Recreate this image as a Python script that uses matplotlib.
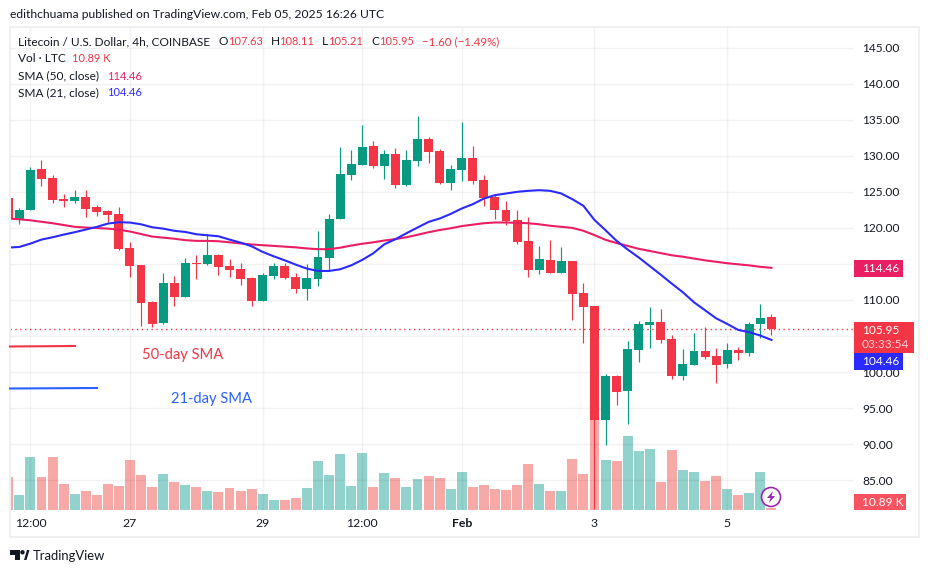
import matplotlib
matplotlib.use("Agg")
import matplotlib.pyplot as plt
from matplotlib.patches import Circle, Polygon, Rectangle

plt.rcParams["font.family"] = ["Lato", "DejaVu Sans"]

W, H = 929, 573

# candles, one entry per 4h bar
opens = [124.1, 121.2, 122.45, 128.15, 126.9, 123.98, 123.7, 124.26, 122.87, 122.31,
         121.9, 117.18, 114.81, 109.68, 106.76, 112.31, 110.37, 115.09, 114.95, 116.2,
         114.68, 114.26, 113.0, 109.81, 113.29, 114.68, 113.15, 111.48, 112.87, 115.79,
         121.2, 127.31, 128.7, 131.34, 128.56, 130.23, 125.93, 129.26, 132.31, 130.65,
         126.2, 128.01, 129.68, 126.62, 124.26, 122.45, 121.06, 118.15, 114.12, 115.51,
         113.7, 115.37, 110.93, 109.12, 93.32, 99.4, 97.33, 103.13, 106.59, 107.0,
         104.65, 99.4, 100.92, 102.86, 102.3, 101.06, 103.0, 102.58, 106.73, 107.63]
closes = [121.3, 122.45, 128.01, 126.76, 123.84, 123.7, 124.26, 122.59, 122.18, 121.76,
          117.04, 114.68, 109.54, 106.62, 112.31, 110.37, 115.09, 114.95, 116.2, 114.54,
          114.12, 112.87, 109.81, 113.43, 114.68, 113.0, 111.48, 113.0, 115.93, 121.2,
          127.45, 128.84, 131.2, 128.56, 130.23, 125.93, 129.4, 132.31, 130.51, 126.2,
          128.15, 129.68, 126.48, 124.12, 122.45, 120.93, 118.01, 114.12, 115.65, 113.7,
          115.37, 110.79, 108.98, 93.32, 99.4, 97.19, 103.27, 106.73, 107.0, 104.52,
          99.4, 101.06, 102.86, 102.16, 100.92, 103.0, 102.58, 106.73, 107.56, 105.95]
highs = [124.1, 122.73, 128.43, 129.4, 127.31, 124.68, 125.23, 125.23, 123.15, 122.45,
         122.87, 118.01, 114.81, 109.81, 113.7, 113.29, 115.79, 116.2, 119.12, 116.34,
         115.65, 115.09, 113.15, 113.7, 115.09, 115.09, 113.7, 114.95, 119.54, 121.9,
         131.2, 130.79, 134.26, 132.04, 130.79, 131.06, 130.79, 135.51, 132.59, 130.93,
         128.7, 134.68, 131.34, 127.31, 124.68, 123.7, 122.45, 121.48, 117.45, 118.29,
         117.31, 115.37, 112.31, 109.12, 99.68, 99.54, 104.38, 107.14, 109.08, 108.8,
         105.21, 103.27, 105.48, 106.31, 103.41, 104.1, 103.55, 107.0, 109.49, 108.11]
lows = [121.3, 120.51, 122.45, 125.79, 123.43, 122.87, 123.43, 121.48, 121.62, 120.79,
        116.9, 113.15, 106.34, 106.2, 106.62, 109.12, 110.37, 112.87, 114.81, 113.43,
        113.15, 112.04, 109.12, 109.81, 112.87, 112.87, 110.93, 109.95, 111.9, 113.98,
        121.2, 126.62, 128.7, 128.29, 126.76, 125.51, 125.79, 128.56, 128.98, 126.06,
        125.23, 126.48, 126.06, 123.01, 121.2, 120.37, 117.73, 113.15, 113.57, 113.7,
        113.7, 107.18, 104.1, 81.0, 89.86, 95.39, 92.76, 101.34, 103.41, 104.1,
        98.99, 98.85, 100.92, 101.75, 98.43, 100.5, 101.61, 102.3, 104.79, 105.21]

# volume in thousands of LTC
volumes = [180, 82, 289, 180, 289, 142, 87, 103, 82, 142,
           131, 272, 191, 125, 196, 152, 136, 125, 103, 98,
           120, 103, 114, 87, 54, 54, 65, 120, 267, 191,
           305, 131, 310, 125, 201, 174, 125, 169, 185, 174,
           114, 207, 125, 136, 114, 109, 136, 250, 142, 103,
           103, 278, 196, 659, 272, 267, 403, 321, 332, 152,
           327, 218, 207, 158, 185, 114, 82, 93, 207, 10.89]

sma50 = [121.3, 121.2, 121.05, 120.85, 120.65, 120.4, 120.15, 120.05, 119.98, 119.9,
         119.75, 119.5, 119.15, 118.8, 118.65, 118.5, 118.3, 118.2, 118.2, 118.15,
         118.0, 117.85, 117.7, 117.6, 117.5, 117.4, 117.3, 117.15, 117.05, 117.05,
         117.25, 117.55, 117.8, 118.0, 118.25, 118.45, 118.7, 119.05, 119.4, 119.7,
         119.95, 120.25, 120.45, 120.65, 120.75, 120.75, 120.7, 120.65, 120.5, 120.3,
         120.15, 120.0, 119.6, 119.0, 118.35, 117.9, 117.5, 117.1, 116.8, 116.5,
         116.2, 116.0, 115.75, 115.5, 115.3, 115.1, 114.95, 114.8, 114.6, 114.46]
sma21 = [117.27, 117.36, 117.82, 118.38, 118.7, 119.07, 119.4, 119.77, 120.14, 120.6,
         120.79, 120.74, 120.5, 120.09, 119.9, 119.6, 119.44, 119.12, 118.98, 118.84,
         118.38, 117.96, 117.45, 116.67, 116.06, 115.5, 114.9, 114.35, 114.03, 114.03,
         114.26, 114.8, 115.56, 116.48, 117.73, 118.43, 119.26, 120.05, 120.83, 121.3,
         121.94, 122.69, 123.29, 124.07, 124.54, 124.77, 125.0, 125.14, 125.23, 125.14,
         124.77, 123.98, 123.06, 121.1, 119.68, 118.2, 117.0, 115.9, 114.7, 113.5,
         112.26, 111.06, 109.68, 108.57, 107.46, 106.68, 105.85, 105.53, 105.07, 104.46]

price_ticks = [85, 90, 95, 100, 105, 110, 115, 120, 125, 130, 135, 140, 145]
# 105 and 115 sit behind the badges, their labels never show
price_labels = ["85.00", "90.00", "95.00", "100.00", "", "110.00", "", "120.00",
                "125.00", "130.00", "135.00", "140.00", "145.00"]
time_ticks = [2, 11, 23, 32, 41, 53, 65]
time_labels = ["12:00", "27", "29", "12:00", "Feb", "3", "5"]
last_close = 105.95

RED = "#f23645"
GREEN = "#089981"
VOL_RED = "#f7a9a7"
VOL_GREEN = "#92d2cc"
PINK = "#e91e63"
BLUE = "#2a2aff"
DARK = "#131722"

fig = plt.figure(figsize=(W / 100, H / 100), dpi=100, facecolor="white")
rect = [10 / W, 1 - 510 / H, 843 / W, 483 / H]

# volume sits under the candles in the same pane
ax_vol = fig.add_axes(rect, zorder=1)
ax = fig.add_axes(rect, zorder=2)
ax.patch.set_visible(False)

x = list(range(len(closes)))
is_up = [c >= o for o, c in zip(opens, closes)]

ax_vol.bar(x, volumes, width=0.9, color=[VOL_GREEN if u else VOL_RED for u in is_up], linewidth=0)
ax_vol.set_ylim(0, 2630)
ax_vol.axis("off")

colors = [GREEN if u else RED for u in is_up]
ax.vlines(x, lows, highs, colors=colors, linewidth=0.85, zorder=3)
ax.bar(x, [abs(c - o) for o, c in zip(opens, closes)], bottom=[min(o, c) for o, c in zip(opens, closes)],
       width=0.81, color=colors, linewidth=0, zorder=4)
ax.plot(x, sma50, color=PINK, linewidth=1.5, zorder=5)
ax.plot(x, sma21, color=BLUE, linewidth=1.5, zorder=5)
ax.axhline(last_close, color=RED, linewidth=1, linestyle=(0, (1, 2.5)), zorder=2)

for a in (ax, ax_vol):
    a.set_xlim((10 - 8.3) / 11.06, (853 - 8.3) / 11.06)
ax.set_ylim(110 - 210 / 7.21, 110 + 273 / 7.21)

ax.yaxis.tick_right()
ax.set_yticks(price_ticks)
ax.set_yticklabels(price_labels, fontsize=8.6, color=DARK)
ax.set_xticks(time_ticks)
ax.set_xticklabels(time_labels, fontsize=8.8, color=DARK)
ax.get_xticklabels()[4].set_fontweight("bold")
ax.tick_params(axis="y", length=0, pad=6.5)
ax.tick_params(axis="x", length=0, pad=6)
ax.grid(True, color="black", alpha=0.05, linewidth=1)
ax.set_axisbelow(True)
for s in ax.spines.values():
    s.set_visible(False)

# overlay in picture pixels for the frame, legend, badges and logo
ov = fig.add_axes([0, 0, 1, 1], zorder=3)
ov.set_xlim(0, W)
ov.set_ylim(H, 0)
ov.axis("off")
ov.patch.set_visible(False)

ov.add_patch(Rectangle((10, 27), 909, 510, fill=False, edgecolor="#f0f0f2", linewidth=1.5))


def label(px, py, s, color=DARK, size=8.6, **kw):
    ov.text(px, py, s, color=color, fontsize=size, va="center", ha="left", **kw)


label(10, 15, "edithchuama published on TradingView.com, Feb 05, 2025 16:26 UTC", size=8.7)
label(18, 41.5, "Litecoin / U.S. Dollar, 4h, COINBASE")
for px, s, c, sz in [(219, "O", DARK, 8.6), (228, "107.63", RED, 7.9), (271, "H", DARK, 8.6),
                     (279, "108.11", RED, 7.9), (322, "L", DARK, 8.6), (328, "105.21", RED, 7.9),
                     (371, "C", DARK, 8.6), (379, "105.95", RED, 7.9), (422, "−1.60 (−1.49%)", RED, 8.3)]:
    label(px, 41.5, s, color=c, size=sz)
label(18, 59, "Vol · LTC")
label(72, 59, "10.89 K", color=RED, size=7.9)
label(18, 76, "SMA (50, close)")
label(107, 76, "114.46", color=PINK, size=7.9)
label(18, 93, "SMA (21, close)")
label(107, 93, "104.46", color=BLUE, size=7.9)

# hand drawn notes on the chart
ov.plot([10, 75], [346.5, 346], color=RED, linewidth=1.5)
ov.plot([10, 97], [388.5, 388], color="#2962ff", linewidth=1.5)
label(142, 355.5, "50-day SMA", color=RED, size=10.6)
label(171, 399.5, "21-day SMA", color="#2962ff", size=10.6)

# price badges on the axis
ov.add_patch(Rectangle((854, 260), 49, 17, color=PINK, linewidth=0))
label(862, 268.5, "114.46", color="white", size=8.6)
ov.add_patch(Rectangle((854, 322), 60, 31, color=RED, linewidth=0))
label(862, 330.5, "105.95", color="white", size=8.6)
label(862, 345, "03:33:54", color="#fbd0d4", size=8.6)
ov.add_patch(Rectangle((854, 353), 49, 17, color=BLUE, linewidth=0))
label(862, 361.5, "104.46", color="white", size=8.6)
ov.add_patch(Rectangle((854, 494), 52, 16, color="#f7525f", linewidth=0))
label(862, 502, "10.89 K", color="white", size=8.6)

# lightning marker
ov.add_patch(Circle((771, 497), 9.5, facecolor=(1, 1, 1, 0.75), edgecolor="#9c27b0", linewidth=1.2))
ov.add_patch(Polygon([(773, 491), (767, 498), (770.5, 498), (769, 503), (775, 496), (771.5, 496)],
                     color="#9c27b0", linewidth=0))

# TradingView mark
ov.add_patch(Polygon([(10, 550), (20, 550), (20, 560), (15, 560), (15, 554.5), (10, 554.5)],
                     color=DARK, linewidth=0))
ov.add_patch(Circle((22.5, 552.3), 2.2, color=DARK, linewidth=0))
ov.add_patch(Polygon([(24, 560), (27, 550), (29.5, 550), (26.5, 560)], color=DARK, linewidth=0))
label(33, 555.5, "TradingView", size=9.4)

fig.savefig("out.png", dpi=100)
